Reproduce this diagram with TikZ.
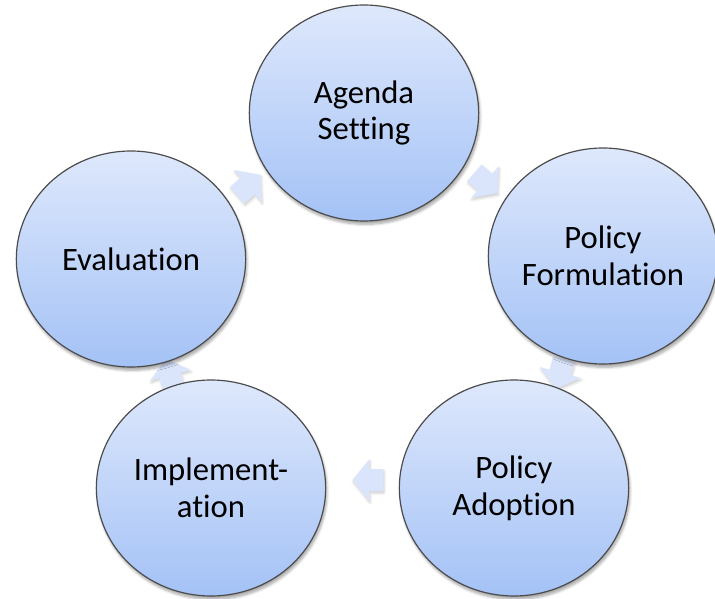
\documentclass[tikz,border=0pt]{standalone}
\usepackage{fontspec}
\setmainfont{Carlito}[Ligatures={NoCommon}]
\usetikzlibrary{shapes.geometric, shadows.blur}
\definecolor{stagetop}{RGB}{222,232,252}
\definecolor{stagebot}{RGB}{164,194,246}
\definecolor{arrowfill}{RGB}{218,229,252}
\tikzset{
    stage/.style={ellipse, draw=black!70, line width=0.9pt,
                  top color=stagetop, bottom color=stagebot,
                  minimum width=172pt, minimum height=162pt, inner sep=0pt,
                  align=center, font=\fontsize{24.5}{27.5}\selectfont,
                  blur shadow={shadow xshift=1pt, shadow yshift=-2.5pt,
                               shadow blur steps=6, shadow opacity=35}},
    pics/cyclearrow/.style={code={
        \fill[arrowfill, blur shadow={shadow xshift=0.5pt, shadow yshift=-1.5pt,
                                      shadow blur steps=4, shadow opacity=20}]
            (-11.6pt,-8.25pt) -- (-1.1pt,-8.25pt) -- (-1.1pt,-15.75pt)
            -- (11.6pt,0pt) -- (-1.1pt,15.75pt) -- (-1.1pt,8.25pt)
            -- (-11.6pt,8.25pt) -- cycle;
    }}
}

\begin{document}
\begin{tikzpicture}[x=0.75pt, y=-0.75pt]
    \useasboundingbox (0,0) rectangle (715,599);
    % arrows between the stages (they lie under the stages)
    \pic[rotate=-41]  (a2f) at (486,183) {cyclearrow};
    \pic[rotate=-105] (f2a) at (560,374) {cyclearrow};
    \pic[rotate=180]  (a2i) at (368,480) {cyclearrow};
    \pic[rotate=105]  (i2e) at (170,374) {cyclearrow};
    \pic[rotate=41]   (e2a) at (249,185) {cyclearrow};
    % stages of the cycle
    \node[stage] (agenda) at (364,113) {Agenda\\Setting};
    \node[stage] (formul) at (603,256) {Policy\\Formulation};
    \node[stage] (adopt)  at (514,488) {Policy\\Adoption};
    \node[stage] (implem) at (211,488) {Implement-\\ation};
    \node[stage] (evalu)  at (131,259) {Evaluation};
\end{tikzpicture}
\end{document}
